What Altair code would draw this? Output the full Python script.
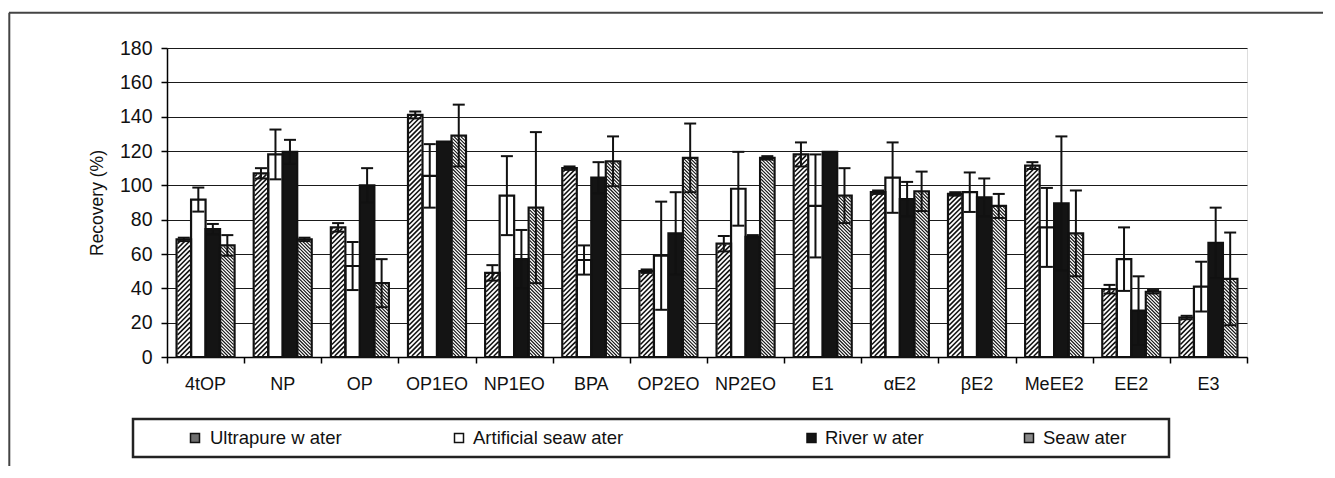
import altair as alt
import pandas as pd
import numpy as np

# ---------------- data ----------------
categories = ["4tOP", "NP", "OP", "OP1EO", "NP1EO", "BPA", "OP2EO", "NP2EO",
              "E1", "αE2", "βE2", "MeEE2", "EE2", "E3"]
series = ["Ultrapure w ater", "Artificial seaw ater", "River w ater", "Seaw ater"]

ultrapure = [68.5, 107, 75.5, 141, 49, 110, 50, 66, 118, 96, 95, 111.5, 39.5, 23]
ultrapure_err = [1, 3, 2.5, 2, 4.5, 1, 1, 4.5, 7, 1, 1, 2, 2.5, 1]

artificial = [91.7, 118, 53, 105.5, 94, 56.5, 59, 98, 88, 104.5, 96, 75.5, 57, 41]
artificial_err = [7, 14.5, 14, 18.5, 23, 8.5, 31.5, 21.5, 30, 20.5, 11.5, 23, 18.5, 14.5]

river = [74.5, 119.5, 100, 125.5, 57, 104.5, 72, 70, 119.5, 92, 93, 89.5, 27, 66.5]
river_err = [3, 7, 10, 0, 17, 9, 24, 1, 0, 10, 11, 39, 20, 20.5]

seawater = [65, 68.5, 43, 129, 87, 114, 116, 116, 94, 96.5, 88, 72, 38, 45.5]
seawater_err = [6, 1, 14, 18, 44, 14.5, 20, 1, 16, 11.5, 7, 25, 1, 27]

y_ticks = [0, 20, 40, 60, 80, 100, 120, 140, 160, 180]

# ---------------- layout ----------------
W, H = 1080, 309
YMAX = 180
N = len(categories)
BAR = 0.188                      # bar width in category units
GROUP_OFF = (1 - 4 * BAR) / 2
CAP_PX = 12
kx = W / N                       # px per category unit
ky = H / YMAX                    # px per y unit
FONT = "Liberation Sans"

values = [ultrapure, artificial, river, seawater]
errors = [ultrapure_err, artificial_err, river_err, seawater_err]

rows = []
for si, name in enumerate(series):
    for ci, cat in enumerate(categories):
        x0 = ci + GROUP_OFF + si * BAR
        v = values[si][ci]
        e = errors[si][ci]
        xc = x0 + BAR / 2
        rows.append(dict(cat=cat, series=name, x0=x0, x1=x0 + BAR, xc=xc,
                         c0=xc - CAP_PX / 2 / kx, c1=xc + CAP_PX / 2 / kx,
                         v=v, lo=v - e, hi=v + e, zero=0))
bars = pd.DataFrame(rows)
bars_err = bars[bars["hi"] > bars["lo"]]


def hatch(x0, x1, v, spacing, direction, inset=1.0):
    a, b = x0 * kx + inset, x1 * kx - inset
    bottom, top = inset, v * ky - inset
    segs = []
    if top <= bottom:
        return segs
    w = b - a
    if direction > 0:            # "/"
        c = bottom - w
        while c < top:
            xa = max(a, a + (bottom - c))
            xb = min(b, a + (top - c))
            if xb > xa:
                segs.append((xa, (xa - a) + c, xb, (xb - a) + c))
            c += spacing
    else:                        # "\"
        c = bottom
        while c < top + w:
            xa = max(a, a + (c - top))
            xb = min(b, a + (c - bottom))
            if xb > xa:
                segs.append((xa, c - (xa - a), xb, c - (xb - a)))
            c += spacing
    return segs


hrows = []
for _, r in bars.iterrows():
    if r["series"] == series[0]:
        for s in hatch(r["x0"], r["x1"], r["v"], 4.8, 1):
            hrows.append(dict(kind="u", x=s[0] / kx, y=s[1] / ky, x2=s[2] / kx, y2=s[3] / ky))
    elif r["series"] == series[3]:
        for s in hatch(r["x0"], r["x1"], r["v"], 3.4, -1):
            hrows.append(dict(kind="s", x=s[0] / kx, y=s[1] / ky, x2=s[2] / kx, y2=s[3] / ky))
hat = pd.DataFrame(hrows)

labels = pd.DataFrame({"cat": categories, "xm": [i + 0.5 for i in range(N)]})

xscale = alt.Scale(domain=[0, N], nice=False, zero=False)
yscale = alt.Scale(domain=[0, YMAX], nice=False)
xaxis = alt.Axis(values=list(range(N + 1)), labels=False, ticks=True, tickSize=6,
                 tickColor="black", tickWidth=1.5, domain=True, domainColor="black",
                 domainWidth=1.5, grid=False, title=None)
yaxis = alt.Axis(values=y_ticks, grid=True, gridColor="#1a1a1a", gridWidth=1,
                 tickSize=6, tickColor="black", tickWidth=1.5, domainColor="black",
                 domainWidth=1.5, labelFont=FONT, labelFontSize=19.5, labelColor="#111",
                 labelPadding=9, title="Recovery (%)", titleFont=FONT,
                 titleFontSize=17.5, titleFontWeight="normal", titleColor="#111",
                 titlePadding=13)

fill_scale = alt.Scale(domain=series, range=["white", "white", "#141414", "white"])

base = alt.Chart(bars)
fills = base.mark_rect().encode(
    x=alt.X("x0:Q", scale=xscale, axis=xaxis),
    x2="x1:Q",
    y=alt.Y("v:Q", scale=yscale, axis=yaxis),
    y2="zero:Q",
    fill=alt.Fill("series:N", scale=fill_scale, legend=None),
)

hatch_u = alt.Chart(hat[hat["kind"] == "u"]).mark_rule(
    color="#111", strokeWidth=1.6, strokeCap="butt").encode(
    x=alt.X("x:Q", scale=xscale, axis=xaxis), x2="x2:Q",
    y=alt.Y("y:Q", scale=yscale, axis=yaxis), y2="y2:Q")
hatch_s = alt.Chart(hat[hat["kind"] == "s"]).mark_rule(
    color="#111", strokeWidth=1.1, strokeCap="butt").encode(
    x=alt.X("x:Q", scale=xscale, axis=xaxis), x2="x2:Q",
    y=alt.Y("y:Q", scale=yscale, axis=yaxis), y2="y2:Q")

outlines = base.mark_rect(fillOpacity=0, stroke="#111", strokeWidth=2.2).encode(
    x=alt.X("x0:Q", scale=xscale, axis=xaxis), x2="x1:Q",
    y=alt.Y("v:Q", scale=yscale, axis=yaxis), y2="zero:Q")

ebase = alt.Chart(bars_err)
evert = ebase.mark_rule(color="#111", strokeWidth=2).encode(
    x=alt.X("xc:Q", scale=xscale, axis=xaxis),
    y=alt.Y("lo:Q", scale=yscale, axis=yaxis), y2="hi:Q")
ecap_hi = ebase.mark_rule(color="#111", strokeWidth=2).encode(
    x=alt.X("c0:Q", scale=xscale, axis=xaxis), x2="c1:Q",
    y=alt.Y("hi:Q", scale=yscale, axis=yaxis))
ecap_lo = ebase.mark_rule(color="#111", strokeWidth=2).encode(
    x=alt.X("c0:Q", scale=xscale, axis=xaxis), x2="c1:Q",
    y=alt.Y("lo:Q", scale=yscale, axis=yaxis))

cat_text = alt.Chart(labels).mark_text(font=FONT, fontSize=18, color="#111",
                                       baseline="middle", align="center").encode(
    x=alt.X("xm:Q", scale=xscale, axis=xaxis),
    y=alt.value(H + 28),
    text="cat:N")

# ---------------- decorations: outer frame and legend ----------------
deco = alt.Chart(pd.DataFrame({"d": [0]}))
frame_top = deco.mark_rule(color="#444", strokeWidth=2).encode(
    x=alt.value(-158), x2=alt.value(1156), y=alt.value(-35.3))
frame_left = deco.mark_rule(color="#444", strokeWidth=2).encode(
    x=alt.value(-157.7), y=alt.value(-35.3), y2=alt.value(418))
legend_box = deco.mark_rect(fill="white", stroke="#222", strokeWidth=2.5).encode(
    x=alt.value(-34), x2=alt.value(1002), y=alt.value(371), y2=alt.value(409))

leg_sym_x = [28, 292, 644.5, 862]
leg_txt_x = [43, 306, 658, 876]
leg_fill = ["#6e6e6e", "white", "#141414", "#8a8a8a"]
legend_layers = []
for i, name in enumerate(series):
    legend_layers.append(deco.mark_rect(fill=leg_fill[i], stroke="#111", strokeWidth=1.5).encode(
        x=alt.value(leg_sym_x[i] - 4.5), x2=alt.value(leg_sym_x[i] + 4.5),
        y=alt.value(385.5), y2=alt.value(394.5)))
    legend_layers.append(deco.mark_text(text=name, font=FONT, fontSize=18.5, color="#111",
                                        align="left", baseline="middle").encode(
        x=alt.value(leg_txt_x[i]), y=alt.value(390)))

chart = alt.layer(
    fills, hatch_u, hatch_s, outlines, evert, ecap_hi, ecap_lo, cat_text,
    frame_top, frame_left, legend_box, *legend_layers
).properties(
    width=W, height=H, padding={"left": 0, "top": 3, "right": 0, "bottom": 0}
).configure_view(
    stroke="#111", strokeWidth=1.5
).configure(background="white")

chart.save("out.html", embed_options={"renderer": "svg", "actions": False})
